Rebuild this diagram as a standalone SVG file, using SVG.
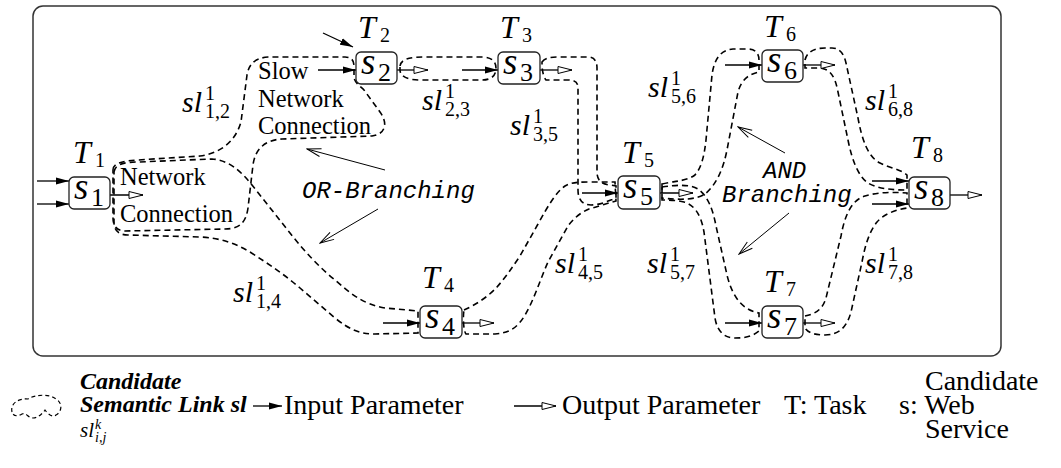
<svg xmlns="http://www.w3.org/2000/svg" width="1061" height="468" viewBox="0 0 1061 468">
<style>
.frame{fill:none;stroke:#333;stroke-width:1.5}
.box{fill:#fff;stroke:#222;stroke-width:1.3}
.sl{fill:none;stroke:#000;stroke-width:1.6;stroke-dasharray:6 4}
.in{stroke:#000;stroke-width:1.3;marker-end:url(#mIn)}
.out{stroke:#000;stroke-width:1.3;marker-end:url(#mOut)}
.br{stroke:#000;stroke-width:1;fill:none;marker-end:url(#mOpen)}
.m{font-family:"Liberation Serif",serif;font-style:italic;fill:#000}
.sv{font-size:37px}
.tv{font-size:32px}
.lv{font-size:30px}
.n{font-style:normal}
.s26{font-size:26px}
.s20{font-size:20px}
.txt{font-family:"Liberation Serif",serif;font-size:24.5px;fill:#000}
.tt{font-family:"Liberation Mono",monospace;font-style:italic;font-size:24px;fill:#000}
.leg{font-family:"Liberation Serif",serif;font-size:28px;fill:#000}
.bi{font-family:"Liberation Serif",serif;font-size:24px;font-weight:bold;font-style:italic;fill:#000}
</style>
<defs>
<marker id="mIn" markerUnits="userSpaceOnUse" viewBox="0 0 13 8" refX="13" refY="4" markerWidth="13" markerHeight="8" orient="auto"><path d="M0,0.5 L13,4 L0,7.5 Z" fill="#000"/></marker>
<marker id="mOut" markerUnits="userSpaceOnUse" viewBox="-1 -1 16 10" refX="14" refY="4" markerWidth="16" markerHeight="10" orient="auto"><path d="M0,0.5 L14,4 L0,7.5 Z" fill="#fff" stroke="#000" stroke-width="1"/></marker>
<marker id="mOpen" markerUnits="userSpaceOnUse" viewBox="-1 -1 16 10" refX="14" refY="4" markerWidth="16" markerHeight="10" orient="auto"><path d="M0,0 L14,4 L0,8" fill="none" stroke="#000" stroke-width="1"/></marker>
</defs>
<rect class="frame" x="33" y="6" width="968" height="350" rx="10"/>

<g id="connectors">
<path id="sl12" class="sl" d="M113,170 C113,163 122,161 138,160 L200,156 C222,153 236,140 241,122 L247,75 C249,63 256,58 268,57 L345,57 C351,57 354,60 354,66 L354,78 C356,84 360,86 364,90 L380,112 C388,123 386,134 372,136 L282,139 C264,140 255,150 253,165 L248,208 C246,222 240,229 225,229 L125,231 C117,231 113,226 113,218 Z"/>
<path id="sl14" class="sl" d="M114,172 C115,165 122,162 138,162 L212,159 C228,160 240,170 252,185 L290,233 C305,252 320,268 335,280 C350,293 362,304 385,308 L418,311 L418,333 L375,334 C360,334 350,330 335,318 L300,288 C285,275 270,265 250,252 C235,243 220,238 200,237 L128,235 C118,235 114,230 114,222 Z"/>
<path id="sl23" class="sl" d="M400,66 C401,59 410,57 425,57 L482,57 C492,57 496,62 496,68 C496,75 492,80 482,80 L420,80 C407,80 400,76 400,70 Z"/>
<path id="sl35" class="sl" d="M542,62 C545,58 550,57 558,57 L588,57 C594,57 597,61 597,68 L597,172 C597,180 601,184 610,185 L616,186 L616,198 C608,201 600,205 591,205 C582,205 578,199 578,190 L578,88 C578,82 575,80 568,80 L546,80 C543,76 542,70 542,62 Z"/>
<path id="sl45" class="sl" d="M464,310 C475,305 488,297 497,287 C505,278 512,268 520,256 L538,224 C548,206 556,192 565,186 C572,182 580,182 590,182 L615,182 L616,201 C608,203 600,206 592,208 C582,211 574,218 568,226 L548,262 C540,280 534,300 525,315 C518,327 510,333 495,334 L466,334 C463,330 463,315 464,310 Z"/>
<path id="sl56" class="sl" d="M662,184 C675,181 687,181 695,175 C701,168 704,158 706,140 L712,75 C714,60 720,50 733,49 L748,49 C755,49 759,53 759,60 L759,72 C750,74 742,78 738,92 L727,150 C723,170 716,185 705,194 C696,200 680,200 662,198 Z"/>
<path id="sl57" class="sl" d="M662,187 C676,185 690,184 698,189 C708,196 713,210 716,226 L727,275 C732,296 742,310 759,313 L759,331 C752,337 744,338 735,338 C724,338 717,331 715,318 L704,232 C701,214 694,205 684,202 C676,200 668,200 662,200 Z"/>
<path id="sl68" class="sl" d="M805,60 C807,52 814,48 825,48 L832,48 C840,48 844,54 846,63 L858,118 C862,140 868,157 880,163 C890,168 900,169 907,175 L907,190 C893,190 878,189 868,183 C858,176 852,160 848,140 L838,92 C835,76 830,68 818,68 L805,68 Z"/>
<path id="sl78" class="sl" d="M805,316 C814,314 822,311 826,298 L841,236 C845,214 852,200 865,196 C878,192 893,192 907,193 L907,208 C895,210 884,214 877,222 C869,232 865,246 862,262 L851,312 C847,327 839,335 825,335 C815,335 808,333 805,328 Z"/>
<line class="br" x1="385" y1="170" x2="307" y2="149"/>
<line class="br" x1="378" y1="209" x2="320" y2="243"/>
<line class="br" x1="785" y1="153" x2="738" y2="127"/>
<line class="br" x1="789" y1="213" x2="739" y2="254"/>
</g>

<g id="params">
<line class="in" x1="37" y1="181" x2="69" y2="181"/>
<line class="in" x1="37" y1="204" x2="69" y2="204"/>
<line class="out" x1="110" y1="195" x2="143" y2="195"/>
<line class="in" x1="318" y1="70" x2="356" y2="70"/>
<line class="in" x1="323" y1="33" x2="353" y2="47"/>
<line class="out" x1="397" y1="70" x2="428" y2="70"/>
<line class="in" x1="462" y1="70" x2="498" y2="70"/>
<line class="out" x1="540" y1="70" x2="572" y2="70"/>
<line class="in" x1="582" y1="193" x2="618" y2="193"/>
<line class="out" x1="660" y1="193" x2="693" y2="193"/>
<line class="in" x1="383" y1="323" x2="420" y2="323"/>
<line class="out" x1="462" y1="323" x2="494" y2="323"/>
<line class="in" x1="725" y1="65" x2="762" y2="65"/>
<line class="out" x1="803" y1="65" x2="835" y2="65"/>
<line class="in" x1="725" y1="323" x2="762" y2="323"/>
<line class="out" x1="803" y1="323" x2="835" y2="323"/>
<line class="in" x1="872" y1="181" x2="909" y2="181"/>
<line class="in" x1="872" y1="204" x2="909" y2="204"/>
<line class="out" x1="950" y1="195" x2="982" y2="195"/>
</g>

<g id="s1"><rect class="box" x="69" y="177" width="41" height="32" rx="5"/><text class="m sv" x="74" y="199">s<tspan class="n s26" x="91" y="206">1</tspan></text><text class="m tv" x="73" y="163">T<tspan class="n s20" x="95" y="167">1</tspan></text></g>
<g id="s2"><rect class="box" x="356" y="52" width="41" height="32" rx="5"/><text class="m sv" x="361" y="74">s<tspan class="n s26" x="378" y="81">2</tspan></text><text class="m tv" x="358" y="38">T<tspan class="n s20" x="380" y="42">2</tspan></text></g>
<g id="s3"><rect class="box" x="498" y="52" width="42" height="32" rx="5"/><text class="m sv" x="503" y="74">s<tspan class="n s26" x="520" y="81">3</tspan></text><text class="m tv" x="500" y="38">T<tspan class="n s20" x="522" y="42">3</tspan></text></g>
<g id="s4"><rect class="box" x="420" y="306" width="42" height="32" rx="5"/><text class="m sv" x="425" y="328">s<tspan class="n s26" x="442" y="335">4</tspan></text><text class="m tv" x="422" y="288">T<tspan class="n s20" x="444" y="292">4</tspan></text></g>
<g id="s5"><rect class="box" x="618" y="176" width="42" height="33" rx="5"/><text class="m sv" x="623" y="198">s<tspan class="n s26" x="640" y="205">5</tspan></text><text class="m tv" x="622" y="163">T<tspan class="n s20" x="644" y="167">5</tspan></text></g>
<g id="s6"><rect class="box" x="762" y="50" width="41" height="32" rx="5"/><text class="m sv" x="767" y="72">s<tspan class="n s26" x="784" y="79">6</tspan></text><text class="m tv" x="764" y="37">T<tspan class="n s20" x="786" y="41">6</tspan></text></g>
<g id="s7"><rect class="box" x="762" y="306" width="41" height="32" rx="5"/><text class="m sv" x="767" y="328">s<tspan class="n s26" x="784" y="335">7</tspan></text><text class="m tv" x="764" y="292">T<tspan class="n s20" x="786" y="296">7</tspan></text></g>
<g id="s8"><rect class="box" x="909" y="177" width="41" height="32" rx="5"/><text class="m sv" x="914" y="199">s<tspan class="n s26" x="931" y="206">8</tspan></text><text class="m tv" x="911" y="158">T<tspan class="n s20" x="933" y="162">8</tspan></text></g>

<g id="labels">
<text class="m lv" x="182" y="112">sl<tspan class="n s20" x="205" y="100">1</tspan><tspan class="n s20" x="205" y="118">1,2</tspan></text>
<text class="m lv" x="422" y="110">sl<tspan class="n s20" x="445" y="98">1</tspan><tspan class="n s20" x="445" y="116">2,3</tspan></text>
<text class="m lv" x="510" y="135">sl<tspan class="n s20" x="533" y="123">1</tspan><tspan class="n s20" x="533" y="141">3,5</tspan></text>
<text class="m lv" x="648" y="97">sl<tspan class="n s20" x="671" y="85">1</tspan><tspan class="n s20" x="671" y="103">5,6</tspan></text>
<text class="m lv" x="865" y="110">sl<tspan class="n s20" x="888" y="98">1</tspan><tspan class="n s20" x="888" y="116">6,8</tspan></text>
<text class="m lv" x="233" y="302">sl<tspan class="n s20" x="256" y="290">1</tspan><tspan class="n s20" x="256" y="308">1,4</tspan></text>
<text class="m lv" x="555" y="273">sl<tspan class="n s20" x="578" y="261">1</tspan><tspan class="n s20" x="578" y="279">4,5</tspan></text>
<text class="m lv" x="647" y="273">sl<tspan class="n s20" x="670" y="261">1</tspan><tspan class="n s20" x="670" y="279">5,7</tspan></text>
<text class="m lv" x="865" y="273">sl<tspan class="n s20" x="888" y="261">1</tspan><tspan class="n s20" x="888" y="279">7,8</tspan></text>
<text class="txt" x="120" y="185">Network</text>
<text class="txt" x="120" y="222">Connection</text>
<text class="txt" x="258" y="79">Slow</text>
<text class="txt" x="258" y="107">Network</text>
<text class="txt" x="258" y="134">Connection</text>
<text class="tt" x="302" y="198">OR-Branching</text>
<text class="tt" x="763" y="178">AND</text>
<text class="tt" x="722" y="202">Branching</text>
</g>

<g id="legend">
<path class="sl" style="stroke-width:1.2;stroke-dasharray:4 3" d="M12,412 C10,404 18,398 28,399 C36,394 50,394 56,399 C63,403 62,412 56,415 C52,418 48,414 45,410 C42,414 38,418 33,418 C28,418 26,412 22,414 C17,417 13,416 12,412 Z"/>
<text class="bi" x="80" y="389">Candidate</text>
<text class="bi" x="80" y="412">Semantic Link sl</text>
<text class="m" style="font-size:21px" x="80" y="437">sl<tspan style="font-size:14px" x="95" y="429">k</tspan><tspan style="font-size:14px" x="95" y="442">i,j</tspan></text>
<line class="in" x1="253" y1="406" x2="282" y2="406"/>
<text class="leg" x="284" y="414">Input Parameter</text>
<line class="out" x1="514" y1="406" x2="556" y2="406"/>
<text class="leg" x="562" y="414">Output Parameter</text>
<text class="leg" x="784" y="414">T: Task</text>
<text class="leg" x="899" y="414">s: Web</text>
<text class="leg" x="925" y="390">Candidate</text>
<text class="leg" x="925" y="438">Service</text>
</g>
</svg>
